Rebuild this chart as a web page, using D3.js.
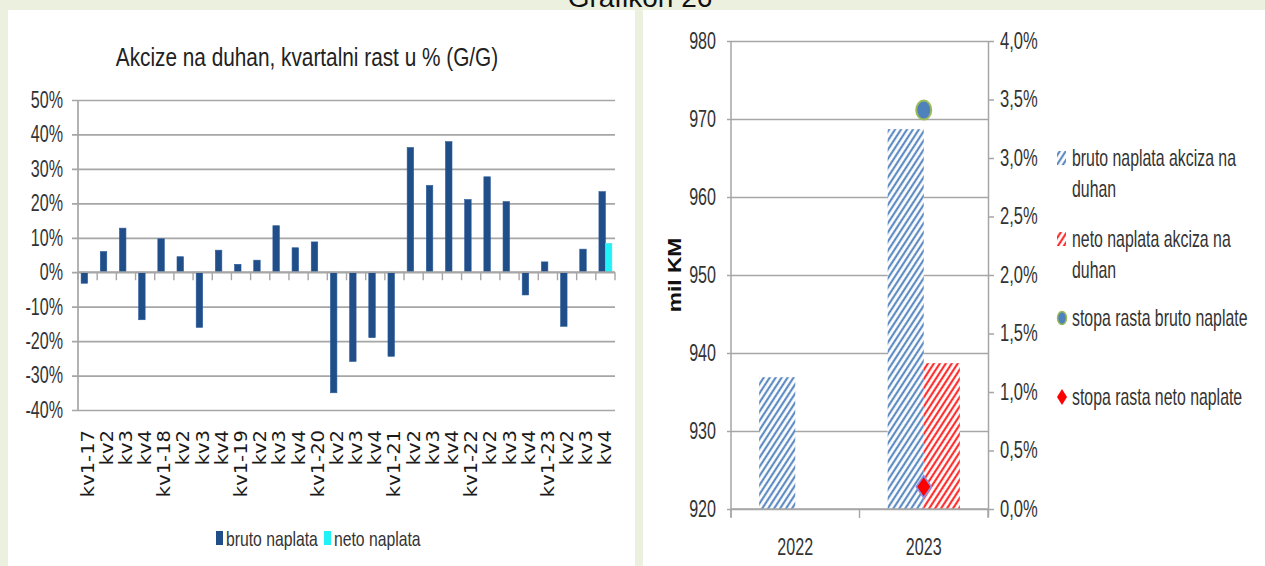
<!DOCTYPE html>
<html>
<head>
<meta charset="utf-8">
<script src="https://cdn.jsdelivr.net/npm/d3@7"></script>
<style>
html,body{margin:0;padding:0;background:#ebf1de;}
svg{display:block;}
</style>
</head>
<body>
<svg id="chart" width="1265" height="566"></svg>
<script>
// ---------- DATA ----------
const quarterLabels = ["kv1-17","kv2","kv3","kv4","kv1-18","kv2","kv3","kv4","kv1-19","kv2","kv3","kv4","kv1-20","kv2","kv3","kv4","kv1-21","kv2","kv3","kv4","kv1-22","kv2","kv3","kv4","kv1-23","kv2","kv3","kv4"];
const brutoGrowth = [-3.2, 6.0, 12.8, -13.8, 9.7, 4.5, -16.0, 6.4, 2.3, 3.5, 13.5, 7.1, 8.8, -35.0, -25.9, -19.0, -24.4, 36.2, 25.2, 37.9, 21.1, 27.7, 20.5, -6.6, 3.0, -15.7, 6.7, 23.4];
const netoGrowth = [null,null,null,null,null,null,null,null,null,null,null,null,null,null,null,null,null,null,null,null,null,null,null,null,null,null,null,8.4];
const leftTicks = [-40,-30,-20,-10,0,10,20,30,40,50];
const leftSeries = ["bruto naplata","neto naplata"];

const years = ["2022","2023"];
const brutoAmount = [936.9, 968.7];
const netoAmount = [null, 938.7];
const brutoRate = [null, 3.41];
const netoRate = [null, 0.19];
const amountTicks = [920,930,940,950,960,970,980];
const rateTicks = [0,0.5,1,1.5,2,2.5,3,3.5,4];
const rightLegend = ["bruto naplata akciza na|duhan","neto naplata akciza na|duhan","stopa rasta bruto naplate","stopa rasta neto naplate"];

// ---------- TEXT HELPERS ----------
const SANS = "'Liberation Sans', Arial, sans-serif";
// squeeze/stretch a text horizontally (in its own frame) with a real transform
function squeeze(sel, f){
  sel.each(function(){
    const t = d3.select(this);
    const x = +(t.attr("x")||0);
    const prev = t.attr("transform")||"";
    t.attr("x", x/f).attr("transform", (prev+` scale(${f},1)`).trim());
  });
}

const svg = d3.select("#chart");
const GRID = "#a6a6a6", TXT = "#333333";

// background panels
svg.append("rect").attr("x",0).attr("y",0).attr("width",1265).attr("height",566).attr("fill","#ebf1de");
svg.append("rect").attr("x",8).attr("y",10).attr("width",627).attr("height",556).attr("fill","#ffffff");
svg.append("rect").attr("x",643).attr("y",10).attr("width",622).attr("height",556).attr("fill","#ffffff");
svg.append("text").attr("x",640).attr("y",7).attr("text-anchor","middle")
  .style("font-family",SANS).style("font-size","28px").attr("fill","#111").text("Grafikon 26");

// defs: hatch patterns
const defs = svg.append("defs");
function hatch(id,color){
  const p = defs.append("pattern").attr("id",id).attr("patternUnits","userSpaceOnUse")
    .attr("width",5).attr("height",10).attr("patternTransform","rotate(33)");
  p.append("rect").attr("width",5).attr("height",10).attr("fill","#fff");
  p.append("line").attr("x1",1.2).attr("y1",0).attr("x2",1.2).attr("y2",10).attr("stroke",color).attr("stroke-width",2);
}
hatch("hBlue","#4f81bd");
hatch("hRed","#ff1a1a");

// ---------- LEFT CHART ----------
{
  const L = {x0:78, x1:615, yTop:100, yBot:410};
  const x = d3.scaleBand().domain(d3.range(quarterLabels.length)).range([L.x0,L.x1]).paddingInner(0).paddingOuter(0);
  const xs = d3.scaleBand().domain(leftSeries).range([0,x.bandwidth()]).paddingInner(0).paddingOuter(0.48);
  const y = d3.scaleLinear().domain([-40,50]).range([L.yBot,L.yTop]);
  const g = svg.append("g");

  // title
  const t = g.append("text").attr("x",307).attr("y",66).attr("text-anchor","middle")
    .style("font-family",SANS).style("font-size","26px").attr("fill","#222")
    .text("Akcize na duhan, kvartalni rast u % (G/G)");
  squeeze(t,0.8);

  // y axis with gridlines
  const yAxis = d3.axisLeft(y).tickValues(leftTicks).tickSize(L.x1-L.x0+6).tickPadding(9).tickFormat(d=>d+"%");
  const ya = g.append("g").attr("transform",`translate(${L.x1},0)`).call(yAxis);
  ya.select(".domain").remove();
  ya.selectAll(".tick line").attr("stroke",GRID).attr("stroke-width",1.7);
  ya.selectAll(".tick text").style("font-family",SANS).style("font-size","23px").attr("fill",TXT);
  squeeze(ya.selectAll(".tick text"),0.7);
  g.append("line").attr("x1",L.x0).attr("x2",L.x0).attr("y1",L.yTop).attr("y2",L.yBot).attr("stroke",GRID).attr("stroke-width",1.7);

  // bars
  const series = [{key:"bruto naplata",vals:brutoGrowth,color:"#1f4e89"},{key:"neto naplata",vals:netoGrowth,color:"#22f2f7"}];
  series.forEach(s=>{
    g.append("g").selectAll("rect").data(s.vals.map((v,i)=>({v,i})).filter(d=>d.v!==null)).join("rect")
      .attr("x",d=>x(d.i)+xs(s.key)).attr("width",xs.bandwidth())
      .attr("y",d=>y(Math.max(0,d.v))).attr("height",d=>Math.abs(y(d.v)-y(0)))
      .attr("fill",s.color).attr("stroke",s.key==="bruto naplata"?"#2a5a9a":"#5fd8e8").attr("stroke-width",0.6);
  });

  // x axis at zero
  const xa = g.append("g").attr("transform",`translate(0,${y(0)})`);
  xa.append("line").attr("x1",L.x0).attr("x2",L.x1).attr("stroke",GRID).attr("stroke-width",1.7);
  const bounds = d3.range(quarterLabels.length+1).map(i=> i<quarterLabels.length? x(i) : x(i-1)+x.bandwidth());
  xa.selectAll("line.tk").data(bounds).join("line").attr("class","tk")
    .attr("x1",d=>d).attr("x2",d=>d).attr("y1",0).attr("y2",8).attr("stroke",GRID).attr("stroke-width",1.4);

  // x labels (rotated)
  const xl = g.append("g").selectAll("text").data(quarterLabels).join("text")
    .attr("transform",(d,i)=>`translate(${x(i)+x.bandwidth()/2+6},430) rotate(-90)`)
    .attr("text-anchor","end")
    .style("font-family","'DejaVu Sans', Verdana, sans-serif").style("font-size","17px").attr("fill","#1a1a1a")
    .text(d=>d);
  squeeze(xl,1.15);

  // legend
  const lg = g.append("g");
  const items = [{key:leftSeries[0],color:"#1f4e89",x:216},{key:leftSeries[1],color:"#22f2f7",x:324}];
  items.forEach(it=>{
    lg.append("rect").attr("x",it.x).attr("y",531).attr("width",7).attr("height",14).attr("fill",it.color);
    const tt = lg.append("text").attr("x",it.x+10).attr("y",546).style("font-family",SANS).style("font-size","21px").attr("fill",TXT).text(it.key);
    squeeze(tt,0.75);
  });
}

// ---------- RIGHT CHART ----------
{
  const R = {x0:731, x1:988, yTop:41, yBot:509};
  const x = d3.scaleBand().domain(years).range([R.x0,R.x1]);
  const xs = d3.scaleBand().domain(["bruto","neto"]).range([0,x.bandwidth()]).paddingOuter(0.78);
  const yL = d3.scaleLinear().domain([920,980]).range([R.yBot,R.yTop]);
  const yR = d3.scaleLinear().domain([0,4]).range([R.yBot,R.yTop]);
  const g = svg.append("g");

  const ya = g.append("g").attr("transform",`translate(${R.x1},0)`)
    .call(d3.axisLeft(yL).tickValues(amountTicks).tickSize(R.x1-R.x0+4).tickPadding(11).tickFormat(d3.format("d")));
  ya.select(".domain").remove();
  ya.selectAll(".tick line").attr("stroke",GRID).attr("stroke-width",1.7);
  ya.selectAll(".tick text").style("font-family",SANS).style("font-size","23px").attr("fill",TXT);
  squeeze(ya.selectAll(".tick text"),0.7);

  const yr = g.append("g").attr("transform",`translate(${R.x1},0)`)
    .call(d3.axisRight(yR).tickValues(rateTicks).tickSize(6).tickPadding(6).tickFormat(d=>d3.format(".1f")(d).replace(".",",")+"%"));
  yr.select(".domain").attr("stroke",GRID).attr("stroke-width",1.5).attr("d",`M0.5,${R.yTop}V${R.yBot+8}`);
  yr.selectAll(".tick line").attr("stroke",GRID).attr("stroke-width",1.5);
  yr.selectAll(".tick text").style("font-family",SANS).style("font-size","23px").attr("fill",TXT);
  squeeze(yr.selectAll(".tick text"),0.72);

  g.append("line").attr("x1",R.x0).attr("x2",R.x0).attr("y1",R.yTop).attr("y2",R.yBot+8).attr("stroke",GRID).attr("stroke-width",1.5);

  // bars
  const bars = [{key:"bruto",vals:brutoAmount,fill:"url(#hBlue)"},{key:"neto",vals:netoAmount,fill:"url(#hRed)"}];
  bars.forEach(s=>{
    g.append("g").selectAll("rect").data(s.vals.map((v,i)=>({v,yr:years[i]})).filter(d=>d.v!==null)).join("rect")
      .attr("x",d=>x(d.yr)+xs(s.key)).attr("width",xs.bandwidth())
      .attr("y",d=>yL(d.v)).attr("height",d=>yL(920)-yL(d.v)).attr("fill",s.fill);
  });

  // x axis
  const xa = g.append("g").attr("transform",`translate(0,${R.yBot})`);
  xa.append("line").attr("x1",R.x0).attr("x2",R.x1).attr("stroke",GRID).attr("stroke-width",1.7);
  const bnds = [x(years[0]), x(years[1]), x(years[1])+x.bandwidth()];
  xa.selectAll("line.tk").data(bnds).join("line").attr("class","tk").attr("x1",d=>d).attr("x2",d=>d).attr("y1",0).attr("y2",9).attr("stroke",GRID).attr("stroke-width",1.4);
  const yl = xa.selectAll("text").data(years).join("text").attr("x",d=>x(d)+x.bandwidth()/2).attr("y",46).attr("text-anchor","middle")
    .style("font-family",SANS).style("font-size","23px").attr("fill",TXT).text(d=>d);
  squeeze(yl,0.7);

  // points
  const cx = d=>x(d.yr)+x.bandwidth()/2;
  g.append("g").selectAll("ellipse").data(brutoRate.map((v,i)=>({v,yr:years[i]})).filter(d=>d.v!==null)).join("ellipse")
    .attr("cx",cx).attr("cy",d=>yR(d.v)).attr("rx",7.5).attr("ry",9.5).attr("fill","#4f81bd").attr("stroke","#9bbb59").attr("stroke-width",2);
  g.append("g").selectAll("path").data(netoRate.map((v,i)=>({v,yr:years[i]})).filter(d=>d.v!==null)).join("path")
    .attr("transform",d=>`translate(${cx(d)},${yR(d.v)})`).attr("d","M0,-11L7.5,0L0,11L-7.5,0Z")
    .attr("fill","#ff0000").attr("stroke","#8d8fe0").attr("stroke-width",1.6);

  // y title
  const yt = g.append("text").attr("transform","translate(681,275) rotate(-90)").attr("text-anchor","middle")
    .style("font-family",SANS).style("font-weight","bold").style("font-size","19px").attr("fill","#111").text("mil KM");
  squeeze(yt,1.2);

  // legend
  const lg = g.append("g");
  const rows = [158, 239, 318, 397];
  rightLegend.forEach((lab,i)=>{
    const cy = rows[i];
    if(i===0||i===1){
      lg.append("rect").attr("x",1057).attr("y",cy-7).attr("width",9).attr("height",14).attr("fill",i===0?"url(#hBlue)":"url(#hRed)");
    } else if(i===2){
      lg.append("ellipse").attr("cx",1062).attr("cy",cy).attr("rx",4.5).attr("ry",6.5).attr("fill","#4f81bd").attr("stroke","#9bbb59").attr("stroke-width",1.5);
    } else {
      lg.append("path").attr("transform",`translate(1062,${cy})`).attr("d","M0,-8L5,0L0,8L-5,0Z").attr("fill","#ff0000");
    }
    lab.split("|").forEach((ln,j)=>{
      const tt = lg.append("text").attr("x",1072).attr("y",cy+8+j*31).style("font-family",SANS).style("font-size","23px").attr("fill",TXT).text(ln);
      squeeze(tt,0.69);
    });
  });
}
</script>
</body>
</html>
